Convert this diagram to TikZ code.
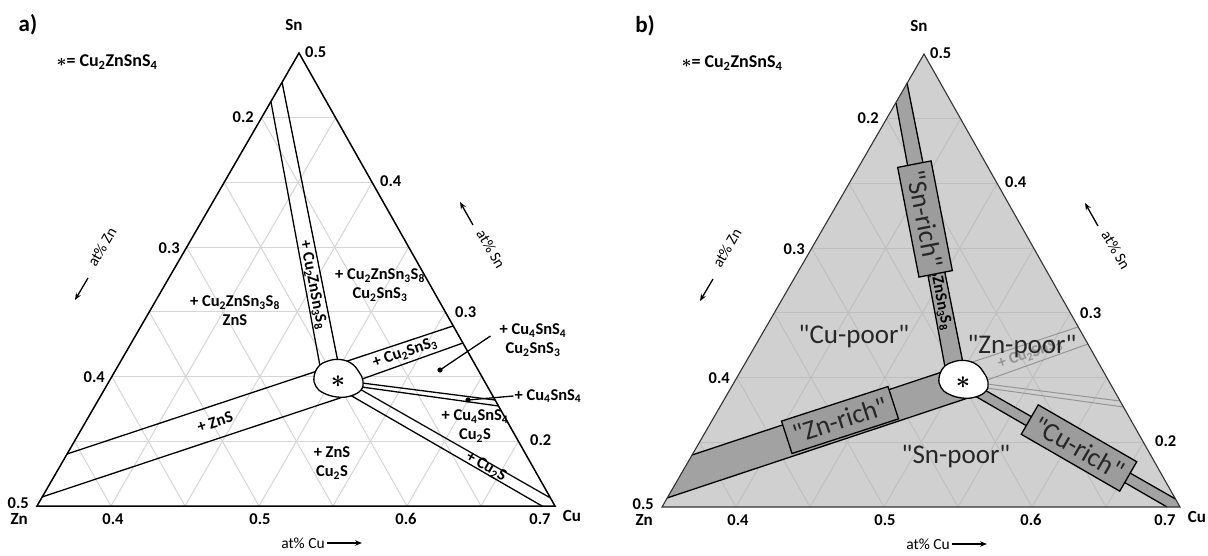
\documentclass[tikz,border=0pt]{standalone}
\usepackage{fontspec}
\setmainfont{Carlito}
\usetikzlibrary{calc,arrows.meta}
\newcommand\sbs[1]{\textsubscript{#1}}
\newcommand\qq{\textquotedbl}
\newcommand\bast{{\boldmath$\ast$}}
\definecolor{gridc}{HTML}{D6D6D6}
\definecolor{bgc}{HTML}{D0D0D0}
\definecolor{gridb}{HTML}{BEBEBE}
\definecolor{bandc}{HTML}{A2A2A2}
\definecolor{boxc}{HTML}{9C9C9C}
\definecolor{faintc}{HTML}{959595}
\newcommand\defcoords{%
 \coordinate (A) at (37,506); \coordinate (B) at (555,506); \coordinate (C) at (299,53);
 \coordinate (sl1) at (271,102); \coordinate (sl2) at (320,366);
 \coordinate (sr1) at (282,82);  \coordinate (sr2) at (338,362);
 \coordinate (zu1) at (67,454);  \coordinate (zu2) at (320,370);
 \coordinate (cu1) at (340,363.5); \coordinate (cu2) at (453,326);
 \coordinate (zl1) at (42,497);  \coordinate (zl2) at (346,396);
 \coordinate (tl1) at (358,380.5); \coordinate (tl2) at (463,343);
 \coordinate (qa1) at (358,382.5); \coordinate (qa2) at (495,400);
 \coordinate (qb1) at (358,386.5); \coordinate (qb2) at (498.5,406);
 \coordinate (ku1) at (358,388);   \coordinate (ku2) at (550.5,498);
 \coordinate (kl1) at (350,395);   \coordinate (kl2) at (542,506);
}
\newcommand\gridlines[1]{%
 \foreach \k in {1,...,6}{
  \draw[#1] ($(A)!\k/7!(C)$) -- ($(B)!\k/7!(C)$);
  \draw[#1] ($(A)!\k/7!(B)$) -- ($(C)!\k/7!(B)$);
  \draw[#1] ($(A)!\k/7!(B)$) -- ($(A)!\k/7!(C)$);
 }}
\newcommand\blobpath{plot[smooth cycle, tension=0.7] coordinates {(314,377) (318.5,366.5) (328,361) (340,359.5) (351.5,363.5) (359,372) (363,381) (361,390) (350.5,396) (337,397) (323.5,393) (316,386.5)}}
\newcommand\axislabels[1]{%
 \node[corner] (#1-sn) at (294,25) {Sn};
 \node[tick, anchor=west] (#1-r5) at (305,52) {0.5};
 \node[tick, anchor=east] (#1-l2) at (254,117) {0.2};
 \node[tick, anchor=east] (#1-l3) at (180,248) {0.3};
 \node[tick, anchor=east] (#1-l4) at (105,377) {0.4};
 \node[tick, anchor=east] (#1-l5) at (29,503) {0.5};
 \node[corner, anchor=east] (#1-zn) at (28,519) {Zn};
 \node[tick, anchor=west] (#1-r4) at (380,181) {0.4};
 \node[tick, anchor=west] (#1-r3) at (455,312) {0.3};
 \node[tick, anchor=west] (#1-r2) at (530,440) {0.2};
 \node[tick] (#1-b4) at (113,519) {0.4};
 \node[tick] (#1-b5) at (260,519) {0.5};
 \node[tick] (#1-b6) at (406,519) {0.6};
 \node[tick] (#1-b7) at (540,519) {0.7};
 \node[corner] (#1-cu) at (572,516) {Cu};
 \node[axl] (#1-xcu) at (303,543) {at\% Cu};
 \coordinate (#1-xcue) at (362,543);
 \draw[axarrow] (#1-xcu.east) -- (#1-xcue);
 \node[axl, rotate=60] (#1-xzn) at (102,247) {at\% Zn};
 \coordinate (#1-xzns) at (88,278); \coordinate (#1-xzne) at (75,300);
 \draw[axarrow] (#1-xzns) -- (#1-xzne);
 \node[axl, rotate=-60] (#1-xsn) at (491,249) {at\% Sn};
 \coordinate (#1-xsns) at (473,225); \coordinate (#1-xsne) at (460,202);
 \draw[axarrow] (#1-xsns) -- (#1-xsne);
 \node[legend] (#1-leg) at (107,62) {\bast= Cu\sbs{2}ZnSnS\sbs{4}};
}
\begin{document}
\begin{tikzpicture}[x=1pt,y=-1pt,
  tick/.style={font=\fontsize{16.5}{17}\selectfont\bfseries, inner sep=0pt},
  corner/.style={font=\fontsize{17}{18}\selectfont\bfseries, inner sep=0pt},
  lab/.style={font=\fontsize{16.5}{19}\selectfont\bfseries, inner sep=1pt, align=center},
  axl/.style={font=\fontsize{15.5}{16}\selectfont, inner sep=2pt},
  legend/.style={font=\fontsize{18}{19}\selectfont\bfseries, inner sep=0pt},
  panel/.style={font=\fontsize{23}{24}\selectfont\bfseries, inner sep=0pt},
  starl/.style={font=\fontsize{26}{26}\selectfont, inner sep=0pt},
  axarrow/.style={line width=1.3pt, -{Stealth[length=7pt,width=5.5pt]}},
  tri/.style={line width=1.5pt, line join=miter},
  bandline/.style={line width=1.3pt},
  faint/.style={line width=1pt, draw=faintc},
  leader/.style={line width=1.3pt},
  rbox/.style={draw=black, line width=1.3pt, fill=boxc, text=black!85,
    font=\fontsize{27}{28}\selectfont, inner xsep=7pt, inner ysep=2pt, minimum height=34pt},
  big/.style={font=\fontsize{27}{28}\selectfont, text=black!85, inner sep=0pt}]
\useasboundingbox (0,0) rectangle (1208,556);
\fill[white] (0,0) rectangle (1208,556);

%%%%%%%%%%%%%%%% panel a
\begin{scope}
\defcoords
\gridlines{gridc, line width=1pt}
\draw[bandline] (sl1) -- (sl2);
\draw[bandline] (sr1) -- (sr2);
\draw[bandline] (zu1) -- (cu2);
\draw[bandline] (zl1) -- (zl2);
\draw[bandline] (tl1) -- (tl2);
\draw[bandline] (qa1) -- (qa2);
\draw[bandline] (qb1) -- (qb2);
\draw[bandline] (ku1) -- (ku2);
\draw[bandline] (kl1) -- (kl2);
\draw[tri] (A) -- (B) -- (C) -- cycle;
\draw[bandline, fill=white] \blobpath;
\node[starl] (a-star) at (338,382) {\bast};
\node[panel] (a-panel) at (28,25) {a)};
\axislabels{a}
% region labels
\node[lab, rotate=-79] (a-snb) at (313,285) {+ Cu\sbs{2}ZnSn\sbs{3}S\sbs{8}};
\node[lab] (a-r1) at (235,311) {+ Cu\sbs{2}ZnSn\sbs{3}S\sbs{8}\\ZnS};
\node[lab] (a-r2) at (380,285) {+ Cu\sbs{2}ZnSn\sbs{3}S\sbs{8}\\Cu\sbs{2}SnS\sbs{3}};
\node[lab, rotate=18] (a-cts) at (405,353) {+ Cu\sbs{2}SnS\sbs{3}};
\node[lab, rotate=18] (a-zns) at (215,422) {+ ZnS};
\node[lab] (a-r3) at (332,463) {+ ZnS\\Cu\sbs{2}S};
\node[lab] (a-r4) at (475,426) {+ Cu\sbs{4}SnS\sbs{4}\\Cu\sbs{2}S};
\node[lab, rotate=-30] (a-cus) at (486,467) {+ Cu\sbs{2}S};
\node[lab] (a-r5) at (533,340) {+ Cu\sbs{4}SnS\sbs{4}\\Cu\sbs{2}SnS\sbs{3}};
\node[lab] (a-r6) at (548,396) {+ Cu\sbs{4}SnS\sbs{4}};
\coordinate (a-d1) at (440,370);
\coordinate (a-d2) at (468,400);
\draw[leader] ([xshift=-8pt,yshift=4pt]a-r5.west) -- (a-d1);
\fill (a-d1) circle (2.6pt);
\draw[leader] (a-r6.west) -- (a-d2);
\fill (a-d2) circle (2.6pt);
\end{scope}

%%%%%%%%%%%%%%%% panel b
\begin{scope}[shift={(625,1)}]
\defcoords
\fill[bgc] (A) -- (B) -- (C) -- cycle;
\gridlines{gridb, line width=0.9pt}
\fill[bandc] (sl1) -- (sl2) -- (sr2) -- (sr1) -- cycle;
\fill[bandc] (zu1) -- (zu2) -- (zl2) -- (zl1) -- cycle;
\fill[bandc] (ku1) -- (ku2) -- (B) -- (kl2) -- (kl1) -- cycle;
\draw[faint] (cu1) -- (cu2);
\draw[faint] (tl1) -- (tl2);
\draw[faint] (qa1) -- (qa2);
\draw[faint] (qb1) -- (qb2);
\node[lab, rotate=18, text=faintc] (b-cts) at (405,353) {+ Cu\sbs{2}SnS\sbs{3}};
\draw[bandline] (sl1) -- (sl2);
\draw[bandline] (sr1) -- (sr2);
\draw[bandline] (zu1) -- (zu2);
\draw[bandline] (zl1) -- (zl2);
\draw[bandline] (ku1) -- (ku2);
\draw[bandline] (kl1) -- (kl2);
\draw[line width=1.1pt, draw=black!80] (A) -- (B) -- (C) -- cycle;
\draw[bandline, fill=white] \blobpath;
\node[starl] (b-star) at (338,382) {\bast};
\node[lab, rotate=-79] (b-snb) at (313,285) {+ Cu\sbs{2}ZnSn\sbs{3}S\sbs{8}};
\node[rbox, rotate=-79] (b-snrich) at (300,218) {\qq Sn-rich\qq};
\node[rbox, rotate=18] (b-znrich) at (215,419) {\qq Zn-rich\qq};
\node[rbox, rotate=-30] (b-curich) at (454,447) {\qq Cu-rich\qq};
\node[big] (b-cupoor) at (229,336) {\qq Cu-poor\qq};
\node[big] (b-znpoor) at (397,346) {\qq Zn-poor\qq};
\node[big] (b-snpoor) at (331,456) {\qq Sn-poor\qq};
\node[panel] (b-panel) at (20,25) {b)};
\axislabels{b}
\end{scope}
\end{tikzpicture}
\end{document}
